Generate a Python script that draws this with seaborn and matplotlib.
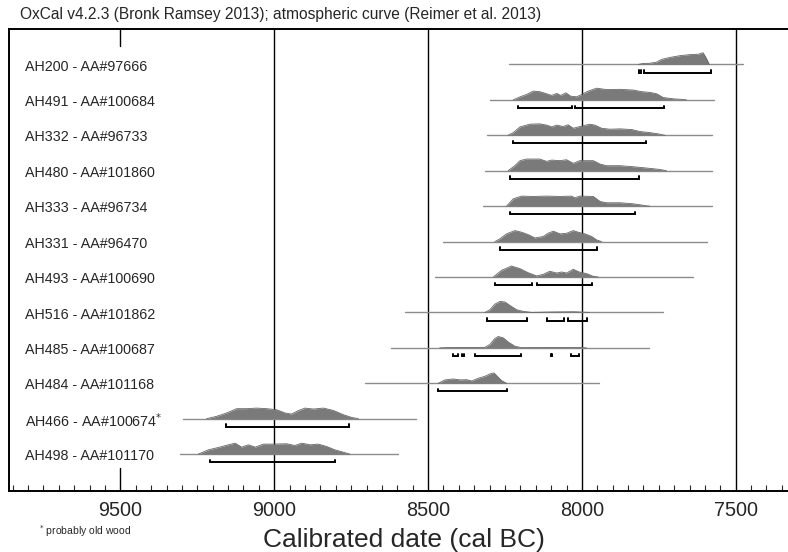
import matplotlib
matplotlib.use("Agg")
import matplotlib.pyplot as plt
import seaborn as sns
from matplotlib.ticker import MultipleLocator

# OxCal multiplot: calibrated date distributions (cal BC)
sns.set_style("white")
plt.rcParams["font.family"] = ["Liberation Sans", "DejaVu Sans"]

labels = ["AH200 - AA#97666", "AH491 - AA#100684", "AH332 - AA#96733",
          "AH480 - AA#101860", "AH333 - AA#96734", "AH331 - AA#96470",
          "AH493 - AA#100690", "AH516 - AA#101862", "AH485 - AA#100687",
          "AH484 - AA#101168", "AH466 - AA#100674$^{*}$", "AH498 - AA#101170"]

# extent of the plotted calibration range for each sample
plot_start = [8236, 8299, 8310, 8315, 8321, 8453, 8478, 8575, 8621, 8705, 9298, 9306]
plot_end = [7476, 7571, 7578, 7578, 7578, 7595, 7638, 7736, 7781, 7944, 8540, 8597]

# probability distributions (year, relative probability)
ah200_years = [7817, 7801, 7779, 7757, 7741, 7714, 7681, 7649, 7622, 7606, 7595, 7586]
ah200_prob = [0, 0.08, 0.1, 0.2, 0.43, 0.6, 0.75, 0.84, 0.87, 1.0, 0.5, 0]
ah491_years = [8223, 8201, 8180, 8158, 8137, 8115, 8098, 8082, 8069, 8052, 8037, 8017,
               8001, 7979, 7952, 7920, 7876, 7833, 7806, 7779, 7757, 7736, 7703, 7676, 7660]
ah491_prob = [0, 0.26, 0.46, 0.75, 0.7, 0.52, 0.38, 0.55, 0.38, 0.6, 0.32, 0.26,
              0.46, 0.75, 1.0, 0.88, 0.9, 0.84, 0.7, 0.64, 0.52, 0.2, 0.09, 0.04, 0]
ah332_years = [8240, 8223, 8201, 8169, 8137, 8115, 8098, 8082, 8061, 8045, 8028, 8007,
               7974, 7958, 7936, 7909, 7876, 7838, 7811, 7779, 7752, 7730]
ah332_prob = [0, 0.23, 0.72, 0.95, 0.98, 0.87, 0.72, 0.87, 0.75, 0.9, 0.6, 0.75,
              0.95, 0.87, 0.6, 0.52, 0.55, 0.49, 0.32, 0.23, 0.12, 0]
ah480_years = [8240, 8218, 8201, 8180, 8137, 8115, 8098, 8071, 8050, 8028, 8007, 7963,
               7941, 7920, 7876, 7833, 7790, 7747, 7725]
ah480_prob = [0, 0.43, 0.86, 1.0, 1.0, 0.8, 0.91, 0.86, 0.94, 0.63, 0.86, 0.86,
              0.57, 0.43, 0.43, 0.34, 0.23, 0.11, 0]
ah333_years = [8245, 8223, 8196, 8158, 8115, 8071, 8034, 8023, 8007, 7963, 7941, 7920,
               7876, 7833, 7790, 7780]
ah333_prob = [0, 0.63, 0.86, 0.83, 0.86, 0.83, 0.86, 0.71, 0.86, 0.83, 0.4, 0.29,
              0.29, 0.2, 0.03, 0]
ah331_years = [8283, 8267, 8245, 8218, 8196, 8175, 8153, 8126, 8110, 8093, 8071, 8050,
               8028, 8012, 7990, 7968, 7952, 7936]
ah331_prob = [0, 0.23, 0.66, 0.94, 0.8, 0.6, 0.31, 0.43, 0.71, 0.89, 0.66, 0.71,
              0.94, 0.8, 0.66, 0.43, 0.14, 0]
ah493_years = [8288, 8261, 8229, 8201, 8175, 8147, 8126, 8104, 8082, 8066, 8050, 8028,
               8009, 7985, 7963, 7947]
ah493_prob = [0, 0.57, 0.94, 0.71, 0.37, 0.09, 0.23, 0.49, 0.34, 0.43, 0.34, 0.66,
              0.43, 0.29, 0.06, 0]
ah516_years = [8315, 8299, 8283, 8266, 8250, 8234, 8212, 8191, 8163, 8115, 8028, 7974]
ah516_prob = [0, 0.23, 0.71, 0.94, 0.89, 0.6, 0.23, 0.09, 0, 0.03, 0.06, 0]
ah485_years = [8462, 8430, 8330, 8315, 8299, 8283, 8272, 8256, 8240, 8218, 8196, 8120,
               8020, 7985]
ah485_prob = [0, 0.03, 0.03, 0.05, 0.29, 0.8, 0.97, 0.86, 0.51, 0.14, 0.02, 0.03,
              0.04, 0]
ah484_years = [8467, 8445, 8418, 8396, 8375, 8358, 8337, 8315, 8299, 8286, 8275, 8261, 8245]
ah484_prob = [0, 0.29, 0.37, 0.29, 0.31, 0.2, 0.43, 0.6, 0.8, 0.89, 0.6, 0.23, 0]
ah466_years = [9220, 9188, 9155, 9122, 9090, 9057, 9025, 8992, 8965, 8944, 8922, 8900,
               8873, 8840, 8808, 8775, 8748, 8726]
ah466_prob = [0, 0.2, 0.49, 0.86, 0.86, 0.91, 0.86, 0.77, 0.49, 0.4, 0.69, 0.91,
              0.83, 0.91, 0.71, 0.34, 0.11, 0]
ah498_years = [9247, 9214, 9182, 9149, 9127, 9106, 9084, 9062, 9035, 9003, 8960, 8933,
               8911, 8884, 8857, 8830, 8803, 8776, 8754]
ah498_prob = [0, 0.37, 0.57, 0.8, 0.94, 0.6, 0.8, 0.6, 0.86, 0.86, 0.89, 0.74,
              0.94, 0.8, 0.86, 0.66, 0.37, 0.17, 0]

# 95.4% highest posterior density ranges
ah200_ranges = [(7814, 7809), (7798, 7582)]
ah491_ranges = [(8207, 8032), (8023, 7733)]
ah332_ranges = [(8225, 7793)]
ah480_ranges = [(8233, 7814)]
ah333_ranges = [(8233, 7828)]
ah331_ranges = [(8265, 7952)]
ah493_ranges = [(8281, 8163), (8145, 7967)]
ah516_ranges = [(8310, 8178), (8113, 8057), (8045, 7982)]
ah485_ranges = [(8420, 8404), (8389, 8384), (8348, 8199), (8102, 8097), (8037, 8010)]
ah484_ranges = [(8467, 8245)]
ah466_ranges = [(9157, 8757)]
ah498_ranges = [(9209, 8803)]

all_years = [ah200_years, ah491_years, ah332_years, ah480_years, ah333_years, ah331_years,
             ah493_years, ah516_years, ah485_years, ah484_years, ah466_years, ah498_years]
all_prob = [ah200_prob, ah491_prob, ah332_prob, ah480_prob, ah333_prob, ah331_prob,
            ah493_prob, ah516_prob, ah485_prob, ah484_prob, ah466_prob, ah498_prob]
all_ranges = [ah200_ranges, ah491_ranges, ah332_ranges, ah480_ranges, ah333_ranges,
              ah331_ranges, ah493_ranges, ah516_ranges, ah485_ranges, ah484_ranges,
              ah466_ranges, ah498_ranges]

grid_years = [9000, 8500, 8000, 7500]
tick_years = [9500, 9000, 8500, 8000, 7500]

fig = plt.figure(figsize=(7.88, 5.52), dpi=100)
ax = fig.add_axes([9 / 788, 61 / 552, 781 / 788 + 0.01, 462 / 552])

peak = 0.33      # height of a distribution in row units
drop = 0.23      # range bars sit below the baseline
hook = 0.07

for i in range(len(labels)):
    ax.plot([plot_start[i], plot_end[i]], [i, i], color="#8c8c8c", lw=1.0, zorder=2)
    top = [i - p * peak for p in all_prob[i]]
    ax.fill_between(all_years[i], i, top, color="#7a7a7a", lw=0, zorder=3)
    sns.lineplot(x=all_years[i], y=top, ax=ax, color="#666666", lw=0.6,
                 sort=False, estimator=None, zorder=4)
    for a, b in all_ranges[i]:
        yb = i + drop
        ax.plot([a, a, b, b], [yb - hook, yb, yb, yb - hook], color="black",
                lw=1.4, solid_joinstyle="miter", zorder=4)
    ax.text(9810, i + 0.06, labels[i], fontsize=10.3, va="center", ha="left", zorder=5)

for g in grid_years:
    ax.axvline(g, color="black", lw=1.0, zorder=1)
ax.axvline(9500, ymin=0, ymax=23 / 462, color="black", lw=1.0)
ax.axvline(9500, ymin=1 - 17 / 462, ymax=1, color="black", lw=1.0)

ax.set_xlim(9862, 7298)
ax.set_ylim(12.04, -1.0)
ax.set_yticks([])
ax.set_xticks(tick_years)
ax.set_xticklabels([str(t) for t in tick_years], fontsize=14.3)
ax.xaxis.set_minor_locator(MultipleLocator(50))
ax.tick_params(axis="x", which="major", length=0, pad=7)
ax.tick_params(axis="x", which="minor", direction="in", length=4, width=0.8, bottom=True)
ax.set_xlabel("Calibrated date (cal BC)", fontsize=19, labelpad=6)

for side in ["left", "top", "bottom"]:
    ax.spines[side].set_color("black")
    ax.spines[side].set_linewidth(1.4)
ax.spines["right"].set_visible(False)

fig.text(20 / 788, 1 - 14 / 552,
         "OxCal v4.2.3 (Bronk Ramsey 2013); atmospheric curve (Reimer et al. 2013)",
         fontsize=11.2, va="center", ha="left")
fig.text(39 / 788, 1 - 531 / 552, "$^{*}$ probably old wood", fontsize=7.5,
         va="center", ha="left")

fig.savefig("out.png", dpi=100)
